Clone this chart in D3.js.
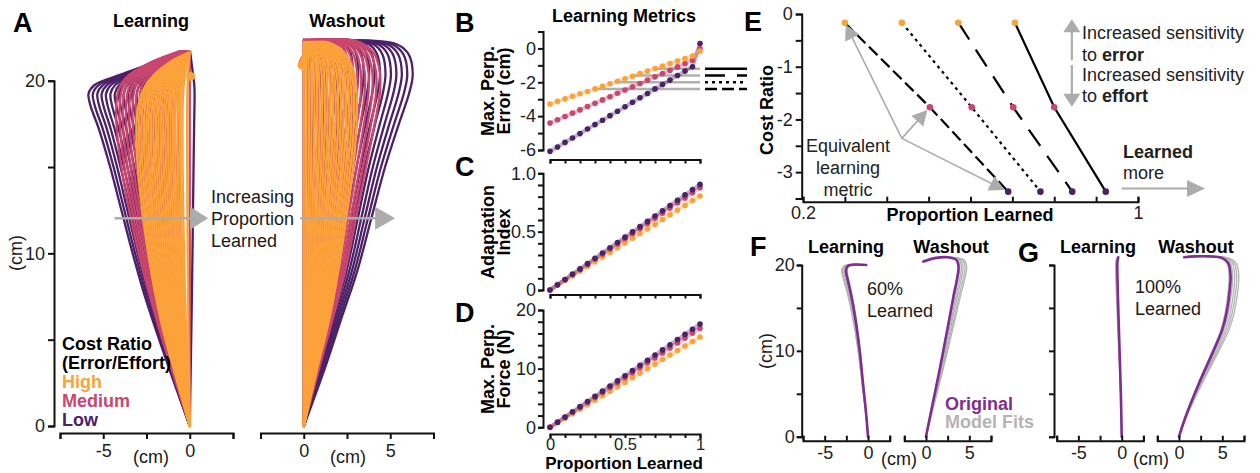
<!DOCTYPE html>
<html>
<head>
<meta charset="utf-8">
<script src="https://cdn.jsdelivr.net/npm/d3@7"></script>
<style>
  body { margin: 0; background: #fff; }
  svg { display: block; }
</style>
</head>
<body>
<svg id="fig" width="1260" height="473"></svg>
<script>
// ---------------- data ----------------
const proportionLearned = [0, 0.05, 0.1, 0.15, 0.2, 0.25, 0.3, 0.35, 0.4, 0.45, 0.5,
                           0.55, 0.6, 0.65, 0.7, 0.75, 0.8, 0.85, 0.9, 0.95, 1];
const costLevels = ["High", "Medium", "Low"];

// B: maximum perpendicular error (cm)
const errorHigh   = [-3.28, -3.13, -2.98, -2.83, -2.68, -2.54, -2.39, -2.24, -2.09, -1.94, -1.79,
                     -1.64, -1.49, -1.34, -1.19, -1.04, -0.90, -0.75, -0.60, -0.45, -0.16];
const errorMedium = [-4.41, -4.21, -4.02, -3.82, -3.63, -3.43, -3.24, -3.04, -2.85, -2.65, -2.46,
                     -2.26, -2.07, -1.87, -1.68, -1.48, -1.29, -1.09, -0.90, -0.70, 0.00];
const errorLow    = [-6.08, -5.82, -5.55, -5.29, -5.03, -4.76, -4.50, -4.24, -3.97, -3.71, -3.45,
                     -3.18, -2.92, -2.66, -2.39, -2.13, -1.87, -1.60, -1.34, -1.08, 0.29];

// C: adaptation index
const adaptHigh   = [0, 0.040, 0.081, 0.121, 0.161, 0.202, 0.242, 0.282, 0.322, 0.363, 0.403,
                     0.443, 0.484, 0.524, 0.564, 0.605, 0.645, 0.685, 0.725, 0.766, 0.806];
const adaptMedium = [0, 0.044, 0.088, 0.132, 0.175, 0.219, 0.263, 0.307, 0.351, 0.395, 0.439,
                     0.482, 0.526, 0.570, 0.614, 0.658, 0.702, 0.746, 0.789, 0.833, 0.877];
const adaptLow    = [0, 0.045, 0.090, 0.136, 0.181, 0.226, 0.272, 0.317, 0.362, 0.407, 0.453,
                     0.498, 0.543, 0.588, 0.634, 0.679, 0.724, 0.769, 0.815, 0.860, 0.905];

// D: maximum perpendicular force (N)
const forceHigh   = [0, 0.77, 1.54, 2.31, 3.08, 3.85, 4.62, 5.39, 6.16, 6.93, 7.70,
                     8.47, 9.24, 10.01, 10.78, 11.55, 12.32, 13.09, 13.86, 14.63, 15.40];
const forceMedium = [0, 0.85, 1.69, 2.54, 3.38, 4.23, 5.07, 5.92, 6.76, 7.61, 8.45,
                     9.30, 10.14, 10.99, 11.83, 12.68, 13.52, 14.37, 15.21, 16.06, 16.90];
const forceLow    = [0, 0.88, 1.76, 2.64, 3.52, 4.40, 5.28, 6.16, 7.04, 7.92, 8.80,
                     9.68, 10.56, 11.44, 12.32, 13.20, 14.08, 14.96, 15.84, 16.72, 17.60];

// B: error criteria (cm) and the proportion where the High series first reaches each
const errorCriteria  = [-1.2, -1.6, -2.0, -2.4];
const criteriaStart  = [0.69, 0.56, 0.43, 0.29];

// E: log cost ratio per level and proportion learned reaching each criterion
const logCostRatio   = [-0.165, -1.77, -3.37];
const learnedAt12    = [0.706, 0.800, 0.923];
const learnedAt16    = [0.571, 0.702, 0.843];
const learnedAt20    = [0.436, 0.603, 0.767];
const learnedAt24    = [0.300, 0.503, 0.690];

// A: hand paths (x, y in cm); learning = no adaptation, washout = full adaptation
const learnPathHigh   = [[0,0],[-0.7,2.5],[-1.5,5.4],[-2.0,7.7],[-2.4,10],[-2.75,12.5],[-3.0,15],
                         [-3.08,17],[-3.0,18.4],[-2.7,19.45],[-2.1,20.3],[-1.1,21.1],[-0.1,21.6]];
const learnPathMedium = [[0,0],[-0.8,2.5],[-1.7,5.4],[-2.35,7.7],[-2.95,10],[-3.5,12.5],[-3.95,15],
                         [-4.2,17],[-4.25,18.4],[-4.1,19.5],[-3.6,20.25],[-2.4,21.0],[-0.6,21.7]];
const learnPathLow    = [[0,0],[-0.9,2.5],[-1.9,5.4],[-2.65,7.7],[-3.3,10],[-3.95,12.5],[-4.6,15],
                         [-5.25,17.2],[-5.75,18.6],[-5.85,19.25],[-5.5,19.75],[-4.0,20.35],[-2.1,21.05],[-0.6,21.65]];
const washPathHigh    = [[0,0],[0.7,3],[1.5,6.3],[2.0,9],[2.45,12],[2.85,15],[3.05,17.5],[3.05,19.3],
                         [2.9,20.5],[2.5,21.4],[1.9,22.0],[1.2,22.25],[0.6,22.1],[0.2,21.8],[-0.05,21.4],[-0.2,21.0]];
const washPathMedium  = [[0,0],[0.8,3],[1.7,6.3],[2.4,9],[3.0,12],[3.6,15],[4.1,17.5],[4.4,19.3],
                         [4.4,20.5],[4.05,21.6],[3.3,22.2],[2.5,22.4],[1.5,22.3],[0.6,22.0],[0.0,21.5],[-0.25,21.0]];
const washPathLow     = [[0,0],[1.1,3],[2.2,6.3],[3.1,9],[3.9,12],[4.7,15],[5.5,17.5],[6.1,19.3],
                         [6.3,20.4],[6.05,21.55],[5.4,22.1],[4.2,22.3],[2.6,22.25],[1.1,22.0],[0.15,21.55],[-0.2,21.0]];
const learnTarget = [0.05, 20.25];
const washTarget  = [-0.1, 20.9];

// F, G: measured hand paths (cm) and lateral gains of the model fits
const fLearnOriginal = [[0,0],[-0.25,3],[-0.58,6.2],[-0.96,10],[-1.5,14],[-1.95,16.5],[-2.35,18.3],
                        [-2.55,19.4],[-2.3,19.9],[-1.5,20.05],[-0.2,20.0]];
const fWashOriginal  = [[0,0],[0.6,3],[1.25,6.2],[2.0,10],[2.65,13.5],[3.2,16.5],[3.6,18.5],
                        [3.75,19.8],[3.5,20.6],[2.5,20.9],[1.0,20.8],[-0.3,20.4]];
const gLearnOriginal = [[0,0],[-0.1,5],[-0.25,10],[-0.4,15],[-0.5,19],[-0.5,20.3],[-0.4,20.9]];
const gWashOriginal  = [[0,0],[0.75,2.3],[2.3,6.2],[4.2,10.5],[5.0,12.5],[5.5,14.5],[5.85,17],
                        [5.95,18.8],[5.7,20.2],[5.0,20.8],[3.5,21.0],[1.8,21.0],[0.6,20.9]];
const fLearnFitGain = [0.94, 1.05, 1.10, 1.16, 1.20];
const fWashFitGain  = [1.04, 1.09, 1.14, 1.20, 1.25];
const gLearnFitGain = [1.20, 1.40];
const gWashFitGain  = [0.97, 1.04, 1.08, 1.12, 1.16];

// ---------------- styles ----------------
const FONT = '"Liberation Sans", Arial, Helvetica, sans-serif';
const levelColor = ["#fca23a", "#c9466e", "#4b2167"];
const criteriaDash = [null, "20,12", "3,4", "12,5"];
const ARROW = "#acacac";
const ORIGINAL = "#7d2e8f";
const FIT = "#b4b4b4";

const svg = d3.select("#fig").attr("font-family", FONT);

const errorSeries = [errorHigh, errorMedium, errorLow];
const adaptSeries = [adaptHigh, adaptMedium, adaptLow];
const forceSeries = [forceHigh, forceMedium, forceLow];
const learnPaths = [learnPathHigh, learnPathMedium, learnPathLow];
const washPaths = [washPathHigh, washPathMedium, washPathLow];

// ---------------- helpers ----------------
function text(g, x, y, s, o = {}) {
  const t = g.append("text").attr("x", x).attr("y", y)
    .attr("font-size", o.size || 18)
    .attr("font-weight", o.bold ? "bold" : "normal")
    .attr("fill", o.color || "#1a1a1a")
    .attr("text-anchor", o.anchor || "start")
    .text(s);
  if (o.rotate) t.attr("transform", `rotate(-90,${x},${y})`);
  return t;
}

function axis(g, gen, scale, values, labels, o) {
  const a = gen(scale).tickValues(values).tickSizeOuter(0)
    .tickSize(o.size).tickPadding(o.pad)
    .tickFormat(d => labels.some(l => Math.abs(l - d) < 1e-9) ? (o.fmt ? o.fmt(d) : String(d)) : "");
  const ag = g.append("g").attr("transform", o.t).call(a);
  ag.attr("font-family", FONT).attr("font-size", o.font || 18);
  ag.select(".domain").attr("stroke", "#111").attr("stroke-width", 2);
  ag.selectAll(".tick line").attr("stroke", "#111").attr("stroke-width", 2);
  ag.selectAll(".tick text").attr("fill", "#222");
  return ag;
}

function arrow(g, x1, y1, x2, y2, o = {}) {
  const len = o.len || 16, half = o.half || 7;
  const dx = x2 - x1, dy = y2 - y1, L = Math.hypot(dx, dy);
  const ux = dx / L, uy = dy / L;
  const bx = x2 - ux * len, by = y2 - uy * len;
  g.append("line").attr("x1", x1).attr("y1", y1).attr("x2", bx + ux * 1).attr("y2", by + uy * 1)
    .attr("stroke", o.color || ARROW).attr("stroke-width", o.width || 1.6);
  g.append("path")
    .attr("d", `M${x2},${y2}L${bx - uy * half},${by + ux * half}L${bx + uy * half},${by - ux * half}Z`)
    .attr("fill", o.color || ARROW);
}

function seqTicks(a, b, step) {
  const n = Math.round((b - a) / step);
  return d3.range(n + 1).map(i => +(a + i * step).toFixed(6));
}

// ---------------- panel A ----------------
const gA = svg.append("g");
const xLearnA = d3.scaleLinear([-7.5, 2.5], [60, 233]);
const xWashA = d3.scaleLinear([-2.5, 7.5], [260.5, 433.5]);
const yA = d3.scaleLinear([0, 20], [426, 80.7]);
const pathLine = (xs, ys) => d3.line().x(d => xs(d[0])).y(d => ys(d[1])).curve(d3.curveCatmullRom.alpha(0.5));

// drawn back to front: Low, Medium, High
[2, 1, 0].forEach(c => {
  const errs = errorSeries[c];
  proportionLearned.forEach((p, i) => {
    const k = errs[i] / errs[0];
    gA.append("path")
      .attr("d", pathLine(xLearnA, yA)(learnPaths[c].map(([x, y]) => [x * k, y])))
      .attr("fill", "none").attr("stroke", levelColor[c]).attr("stroke-width", 2.3)
      .attr("stroke-linecap", "round").attr("stroke-linejoin", "round");
  });
  proportionLearned.forEach((p) => {
    gA.append("path")
      .attr("d", pathLine(xWashA, yA)(washPaths[c].map(([x, y]) => [x * p, y])))
      .attr("fill", "none").attr("stroke", levelColor[c]).attr("stroke-width", 2.3)
      .attr("stroke-linecap", "round").attr("stroke-linejoin", "round");
  });
});
gA.append("circle").attr("cx", xLearnA(learnTarget[0])).attr("cy", yA(learnTarget[1])).attr("r", 4.5).attr("fill", levelColor[0]);
gA.append("circle").attr("cx", xWashA(washTarget[0])).attr("cy", yA(washTarget[1])).attr("r", 4.5).attr("fill", levelColor[0]);

axis(gA, d3.axisLeft, yA, [0, 5, 10, 15, 20], [0, 10, 20], { size: 6, pad: 3, t: "translate(54,0)" });
axis(gA, d3.axisBottom, xLearnA, [-7.5, -5, -2.5, 0, 2.5], [-5, 0], { size: 6, pad: 5, t: "translate(0,433)" });
axis(gA, d3.axisBottom, xWashA, [-2.5, 0, 2.5, 5, 7.5], [0, 5], { size: 6, pad: 5, t: "translate(0,433)" });
text(gA, 22, 253, "(cm)", { anchor: "middle", rotate: true });
text(gA, 151, 463, "(cm)", { anchor: "middle" });
text(gA, 348, 463, "(cm)", { anchor: "middle" });

text(gA, 13, 32, "A", { size: 27, bold: true, color: "#000" });
text(gA, 151, 27, "Learning", { bold: true, anchor: "middle", color: "#000" });
text(gA, 347, 27, "Washout", { bold: true, anchor: "middle", color: "#000" });

text(gA, 211, 203, "Increasing");
text(gA, 211, 225, "Proportion");
text(gA, 211, 247, "Learned");
arrow(gA, xLearnA(-4.35), yA(12.03), xLearnA(1.06), yA(12.03), { len: 18, half: 11.5, width: 2.5 });
arrow(gA, xWashA(-0.2), yA(12.03), xWashA(5.28), yA(12.03), { len: 20, half: 11.5, width: 2.5 });

text(gA, 62, 350, "Cost Ratio", { bold: true, color: "#000" });
text(gA, 62, 369, "(Error/Effort)", { bold: true, color: "#000" });
costLevels.forEach((lv, i) => text(gA, 62, 388 + i * 19, lv, { bold: true, color: levelColor[i] }));

// ---------------- panels B, C, D ----------------
const gM = svg.append("g");
const xM = d3.scaleLinear([0, 1], [550, 700]);
const yB = d3.scaleLinear([-6, 1], [150, 31.5]);
const yC = d3.scaleLinear([0, 1], [290, 173.3]);
const yD = d3.scaleLinear([0, 20], [427.3, 310]);
const xTicks = seqTicks(0, 1, 0.1);

text(gM, 455, 32, "B", { size: 27, bold: true, color: "#000" });
text(gM, 455, 176, "C", { size: 27, bold: true, color: "#000" });
text(gM, 455, 322, "D", { size: 27, bold: true, color: "#000" });
text(gM, 624, 22, "Learning Metrics", { bold: true, anchor: "middle", color: "#000" });

// criteria lines in B
errorCriteria.forEach((v, j) => {
  gM.append("line").attr("x1", xM(criteriaStart[j])).attr("x2", xM(1))
    .attr("y1", yB(v)).attr("y2", yB(v))
    .attr("stroke", "#b0b0b0").attr("stroke-width", 2.4);
  const l = gM.append("line").attr("x1", 705).attr("x2", 747)
    .attr("y1", yB(v)).attr("y2", yB(v))
    .attr("stroke", "#000").attr("stroke-width", 2.4);
  if (criteriaDash[j]) l.attr("stroke-dasharray", criteriaDash[j]);
});

function metricPanel(series, ys, order) {
  const line = d3.line().x((d, i) => xM(proportionLearned[i])).y(d => ys(d));
  order.forEach(c => {
    gM.append("path").attr("d", line(series[c])).attr("fill", "none")
      .attr("stroke", levelColor[c]).attr("stroke-opacity", 0.35).attr("stroke-width", 4);
  });
  order.forEach(c => {
    gM.append("g").selectAll("circle").data(series[c]).join("circle")
      .attr("cx", (d, i) => xM(proportionLearned[i])).attr("cy", d => ys(d))
      .attr("r", 2.8).attr("fill", levelColor[c]);
  });
}
metricPanel(errorSeries, yB, [2, 1, 0]);
metricPanel(adaptSeries, yC, [0, 1, 2]);
metricPanel(forceSeries, yD, [0, 1, 2]);

axis(gM, d3.axisLeft, yB, seqTicks(-6, 1, 1), [0, -2, -4, -6], { size: 5, pad: 2, t: "translate(543,0)" });
axis(gM, d3.axisLeft, yC, seqTicks(0, 1, 0.1), [0, 0.5, 1], { size: 5, pad: 2, t: "translate(543,0)",
  fmt: d => d === 0 ? "0" : d3.format(".1f")(d) });
axis(gM, d3.axisLeft, yD, seqTicks(0, 20, 2), [0, 10, 20], { size: 5, pad: 2, t: "translate(543,0)" });
axis(gM, d3.axisBottom, xM, xTicks, [], { size: 4, pad: 2, t: "translate(0,159.5)" });
axis(gM, d3.axisBottom, xM, xTicks, [], { size: 4, pad: 2, t: "translate(0,294.5)" });
axis(gM, d3.axisBottom, xM, xTicks, [0, 0.5, 1], { size: 4, pad: 0.5, font: 16.5, t: "translate(0,434)" });
text(gM, 624, 468.5, "Proportion Learned", { size: 17, bold: true, anchor: "middle", color: "#000" });

text(gM, 494, 91, "Max. Perp.", { bold: true, anchor: "middle", rotate: true, color: "#000" });
text(gM, 510, 91, "Error (cm)", { bold: true, anchor: "middle", rotate: true, color: "#000" });
text(gM, 494, 232, "Adaptation", { bold: true, anchor: "middle", rotate: true, color: "#000" });
text(gM, 510, 232, "Index", { bold: true, anchor: "middle", rotate: true, color: "#000" });
text(gM, 494, 369, "Max. Perp.", { bold: true, anchor: "middle", rotate: true, color: "#000" });
text(gM, 510, 369, "Force (N)", { bold: true, anchor: "middle", rotate: true, color: "#000" });

// ---------------- panel E ----------------
const gE = svg.append("g");
const xE = d3.scaleLinear([0.2, 1], [803, 1138]);
const yE = d3.scaleLinear([-3.5, 0], [198.5, 14]);
text(gE, 744, 31, "E", { size: 27, bold: true, color: "#000" });

const eqSets = [learnedAt24, learnedAt20, learnedAt16, learnedAt12];
const eqDash = ["12,5", "3,4", "20,12", null];
const eqLine = d3.line().x(d => xE(d[0])).y(d => yE(d[1]));
eqSets.forEach((set, j) => {
  const l = gE.append("path").attr("d", eqLine(set.map((x, c) => [x, logCostRatio[c]])))
    .attr("fill", "none").attr("stroke", "#000").attr("stroke-width", 2.2);
  if (eqDash[j]) l.attr("stroke-dasharray", eqDash[j]);
});
eqSets.forEach(set => {
  set.forEach((x, c) => gE.append("circle").attr("cx", xE(x)).attr("cy", yE(logCostRatio[c]))
    .attr("r", 3.3).attr("fill", levelColor[c]));
});

axis(gE, d3.axisLeft, yE, seqTicks(-3.5, 0, 0.5), [0, -1, -2, -3], { size: 6, pad: 3, t: "translate(801.7,0)" });
axis(gE, d3.axisBottom, xE, seqTicks(0.2, 1, 0.1), [0.2, 1], { size: -5, pad: 5, t: "translate(0,201.7)" });
text(gE, 773, 110, "Cost Ratio", { bold: true, anchor: "middle", rotate: true, color: "#000" });
text(gE, 970, 221, "Proportion Learned", { bold: true, anchor: "middle", color: "#000" });

// annotations
const src = [xE(0.436), yE(-2.36)];
arrow(gE, src[0], src[1], xE(0.302), yE(-0.2), { len: 15, half: 8 });
arrow(gE, src[0], src[1], xE(0.497), yE(-1.82), { len: 15, half: 8 });
arrow(gE, src[0], src[1], xE(0.681), yE(-3.34), { len: 15, half: 8 });
text(gE, 848, 152, "Equivalent", { anchor: "middle", color: "#222" });
text(gE, 848, 174, "learning", { anchor: "middle", color: "#222" });
text(gE, 848, 196, "metric", { anchor: "middle", color: "#222" });

arrow(gE, xE(0.842), yE(-0.88), xE(0.842), yE(-0.1), { len: 13, half: 8.5, width: 2.2 });
arrow(gE, xE(0.842), yE(-0.97), xE(0.842), yE(-1.76), { len: 13, half: 8.5, width: 2.2 });
text(gE, 1082, 39, "Increased sensitivity", { color: "#222" });
const t1 = text(gE, 1082, 61, "to ", { color: "#222" });
t1.append("tspan").attr("font-weight", "bold").text("error");
text(gE, 1082, 81, "Increased sensitivity", { color: "#222" });
const t2 = text(gE, 1082, 102, "to ", { color: "#222" });
t2.append("tspan").attr("font-weight", "bold").text("effort");

text(gE, 1123, 158, "Learned", { bold: true, color: "#222" });
text(gE, 1123, 179, "more", { color: "#222" });
arrow(gE, xE(0.961), yE(-3.31), xE(1.16), yE(-3.31), { len: 18, half: 8.5, width: 2.2 });

// ---------------- panels F, G ----------------
const gF = svg.append("g");
const yFG = d3.scaleLinear([0, 20], [436.7, 265]);
const xFL = d3.scaleLinear([-7.5, 2.5], [803, 889.7]);
const xFW = d3.scaleLinear([-2.5, 7.5], [904.3, 991]);
const xGL = d3.scaleLinear([-7.5, 2.5], [1056.7, 1143.4]);
const xGW = d3.scaleLinear([-2.5, 7.5], [1157.3, 1244]);

function handPanel(xs, original, gains) {
  gains.forEach(k => {
    gF.append("path").attr("d", pathLine(xs, yFG)(original.map(([x, y]) => [x * k, y])))
      .attr("fill", "none").attr("stroke", FIT).attr("stroke-width", 1.3);
  });
  gF.append("path").attr("d", pathLine(xs, yFG)(original))
    .attr("fill", "none").attr("stroke", ORIGINAL).attr("stroke-width", 2.6)
    .attr("stroke-linecap", "round");
}
handPanel(xFL, fLearnOriginal, fLearnFitGain);
handPanel(xFW, fWashOriginal, fWashFitGain);
handPanel(xGL, gLearnOriginal, gLearnFitGain);
handPanel(xGW, gWashOriginal, gWashFitGain);

axis(gF, d3.axisLeft, yFG, [0, 5, 10, 15, 20], [0, 10, 20], { size: 5, pad: 2, t: "translate(801.7,0)" });
axis(gF, d3.axisLeft, yFG, [0, 5, 10, 15, 20], [], { size: 5, pad: 2, t: "translate(1054,0)" });
[[xFL, [-5, 0]], [xFW, [0, 5]], [xGL, [-5, 0]], [xGW, [0, 5]]].forEach(([xs, labs]) => {
  axis(gF, d3.axisBottom, xs, [-7.5, -5, -2.5, 0, 2.5].map(v => xs === xFW || xs === xGW ? v + 5 : v), labs,
    { size: -5, pad: 6, t: "translate(0,440.7)" });
});
text(gF, 772, 351, "(cm)", { anchor: "middle", rotate: true });
text(gF, 899, 465, "(cm)", { anchor: "middle" });
text(gF, 1151, 465, "(cm)", { anchor: "middle" });

text(gF, 750, 256, "F", { size: 27, bold: true, color: "#000" });
text(gF, 1018, 262, "G", { size: 27, bold: true, color: "#000" });
text(gF, 846, 253, "Learning", { bold: true, anchor: "middle", color: "#000" });
text(gF, 951, 253, "Washout", { bold: true, anchor: "middle", color: "#000" });
text(gF, 1098, 253, "Learning", { bold: true, anchor: "middle", color: "#000" });
text(gF, 1196, 253, "Washout", { bold: true, anchor: "middle", color: "#000" });

text(gF, 867, 295, "60%");
text(gF, 867, 317, "Learned");
text(gF, 1135, 293, "100%");
text(gF, 1135, 315, "Learned");
text(gF, 945, 410, "Original", { bold: true, color: ORIGINAL });
text(gF, 945, 428, "Model Fits", { bold: true, color: FIT });
</script>
</body>
</html>
